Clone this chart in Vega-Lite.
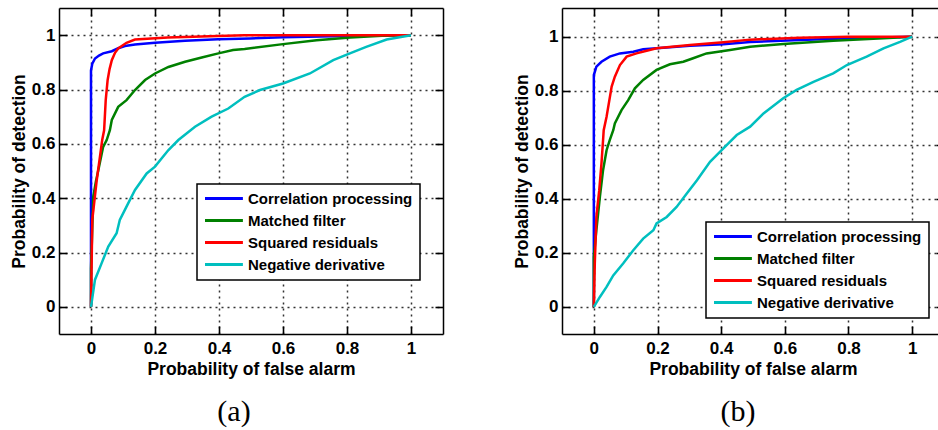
{
  "$schema": "https://vega.github.io/schema/vega-lite/v6.json",
  "autosize": {"type": "none"},
  "padding": {"left": 59, "top": 8, "right": 879, "bottom": 422},
  "background": "white",
  "bounds": "flush",
  "spacing": 119,
  "config": {
    "view": {"stroke": null},
    "axis": {
      "labelFont": "Liberation Sans", "labelFontWeight": "bold", "labelFontSize": 17, "labelColor": "black",
      "titleFont": "Liberation Sans", "titleFontWeight": "bold", "titleFontSize": 17.5, "titleColor": "black",
      "domainColor": "black", "domainWidth": 1.5,
      "ticks": true, "tickSize": -8, "tickColor": "black", "tickWidth": 1.6, "tickOpacity": 1,
      "gridColor": "#333333", "gridDash": [2, 4], "gridWidth": 1.5, "gridOpacity": 1,
      "labelFlush": false, "labelOverlap": false, "format": "~g"
    },
    "legend": {
      "labelFont": "Liberation Sans", "labelFontWeight": "bold", "labelFontSize": 15, "labelColor": "black", "labelLimit": 400,
      "symbolType": "M-1.37,0H6.62", "symbolSize": 90, "symbolStrokeWidth": 3, "labelOffset": 29,
      "padding": 7, "rowPadding": 6, "strokeColor": "black", "fillColor": "white", "strokeWidth": 1.5
    },
    "title": {"font": "Liberation Serif", "fontWeight": "normal", "fontSize": 30, "color": "black"}
  },
  "datasets": {
    "a": [
      {"s": "Correlation processing", "x": 0, "y": 0},
      {"s": "Correlation processing", "x": 0, "y": 0.87},
      {"s": "Correlation processing", "x": 0.004, "y": 0.895},
      {"s": "Correlation processing", "x": 0.0125, "y": 0.914},
      {"s": "Correlation processing", "x": 0.025, "y": 0.925},
      {"s": "Correlation processing", "x": 0.038, "y": 0.933},
      {"s": "Correlation processing", "x": 0.065, "y": 0.941},
      {"s": "Correlation processing", "x": 0.085, "y": 0.952},
      {"s": "Correlation processing", "x": 0.106, "y": 0.96},
      {"s": "Correlation processing", "x": 0.1375, "y": 0.966},
      {"s": "Correlation processing", "x": 0.2, "y": 0.972},
      {"s": "Correlation processing", "x": 0.294, "y": 0.979},
      {"s": "Correlation processing", "x": 0.397, "y": 0.985},
      {"s": "Correlation processing", "x": 0.497, "y": 0.988},
      {"s": "Correlation processing", "x": 0.6, "y": 0.992},
      {"s": "Correlation processing", "x": 0.756, "y": 0.996},
      {"s": "Correlation processing", "x": 0.9, "y": 0.999},
      {"s": "Correlation processing", "x": 1, "y": 1},
      {"s": "Matched filter", "x": 0, "y": 0},
      {"s": "Matched filter", "x": 0, "y": 0.14},
      {"s": "Matched filter", "x": 0.003, "y": 0.25},
      {"s": "Matched filter", "x": 0.007, "y": 0.405},
      {"s": "Matched filter", "x": 0.015, "y": 0.46},
      {"s": "Matched filter", "x": 0.023, "y": 0.504},
      {"s": "Matched filter", "x": 0.038, "y": 0.589},
      {"s": "Matched filter", "x": 0.049, "y": 0.614},
      {"s": "Matched filter", "x": 0.059, "y": 0.65},
      {"s": "Matched filter", "x": 0.065, "y": 0.688},
      {"s": "Matched filter", "x": 0.085, "y": 0.736},
      {"s": "Matched filter", "x": 0.111, "y": 0.761},
      {"s": "Matched filter", "x": 0.1375, "y": 0.798},
      {"s": "Matched filter", "x": 0.169, "y": 0.835},
      {"s": "Matched filter", "x": 0.2, "y": 0.859},
      {"s": "Matched filter", "x": 0.242, "y": 0.883},
      {"s": "Matched filter", "x": 0.294, "y": 0.902},
      {"s": "Matched filter", "x": 0.346, "y": 0.918},
      {"s": "Matched filter", "x": 0.398, "y": 0.933},
      {"s": "Matched filter", "x": 0.444, "y": 0.945},
      {"s": "Matched filter", "x": 0.48, "y": 0.949},
      {"s": "Matched filter", "x": 0.6, "y": 0.967},
      {"s": "Matched filter", "x": 0.705, "y": 0.981},
      {"s": "Matched filter", "x": 0.81, "y": 0.991},
      {"s": "Matched filter", "x": 0.91, "y": 0.998},
      {"s": "Matched filter", "x": 1, "y": 1},
      {"s": "Squared residuals", "x": 0, "y": 0},
      {"s": "Squared residuals", "x": 0.004, "y": 0.32},
      {"s": "Squared residuals", "x": 0.018, "y": 0.467},
      {"s": "Squared residuals", "x": 0.028, "y": 0.553},
      {"s": "Squared residuals", "x": 0.035, "y": 0.614},
      {"s": "Squared residuals", "x": 0.041, "y": 0.65},
      {"s": "Squared residuals", "x": 0.046, "y": 0.761},
      {"s": "Squared residuals", "x": 0.052, "y": 0.835},
      {"s": "Squared residuals", "x": 0.058, "y": 0.875},
      {"s": "Squared residuals", "x": 0.065, "y": 0.908},
      {"s": "Squared residuals", "x": 0.075, "y": 0.935},
      {"s": "Squared residuals", "x": 0.085, "y": 0.951},
      {"s": "Squared residuals", "x": 0.111, "y": 0.972},
      {"s": "Squared residuals", "x": 0.1375, "y": 0.984},
      {"s": "Squared residuals", "x": 0.24, "y": 0.991},
      {"s": "Squared residuals", "x": 0.397, "y": 0.997},
      {"s": "Squared residuals", "x": 0.48, "y": 1.0},
      {"s": "Squared residuals", "x": 1, "y": 1},
      {"s": "Negative derivative", "x": 0, "y": 0},
      {"s": "Negative derivative", "x": 0.0125, "y": 0.1},
      {"s": "Negative derivative", "x": 0.033, "y": 0.16},
      {"s": "Negative derivative", "x": 0.054, "y": 0.222},
      {"s": "Negative derivative", "x": 0.08, "y": 0.271},
      {"s": "Negative derivative", "x": 0.09, "y": 0.32},
      {"s": "Negative derivative", "x": 0.111, "y": 0.369},
      {"s": "Negative derivative", "x": 0.1375, "y": 0.43},
      {"s": "Negative derivative", "x": 0.174, "y": 0.491},
      {"s": "Negative derivative", "x": 0.2, "y": 0.516},
      {"s": "Negative derivative", "x": 0.242, "y": 0.577},
      {"s": "Negative derivative", "x": 0.273, "y": 0.614},
      {"s": "Negative derivative", "x": 0.325, "y": 0.663},
      {"s": "Negative derivative", "x": 0.377, "y": 0.7},
      {"s": "Negative derivative", "x": 0.429, "y": 0.73},
      {"s": "Negative derivative", "x": 0.48, "y": 0.773},
      {"s": "Negative derivative", "x": 0.528, "y": 0.798},
      {"s": "Negative derivative", "x": 0.6, "y": 0.822},
      {"s": "Negative derivative", "x": 0.684, "y": 0.859},
      {"s": "Negative derivative", "x": 0.757, "y": 0.908},
      {"s": "Negative derivative", "x": 0.809, "y": 0.933},
      {"s": "Negative derivative", "x": 0.86, "y": 0.957},
      {"s": "Negative derivative", "x": 0.924, "y": 0.984},
      {"s": "Negative derivative", "x": 1, "y": 1}
    ],
    "b": [
      {"s": "Correlation processing", "x": 0, "y": 0},
      {"s": "Correlation processing", "x": 0, "y": 0.858},
      {"s": "Correlation processing", "x": 0.008, "y": 0.889},
      {"s": "Correlation processing", "x": 0.024, "y": 0.907},
      {"s": "Correlation processing", "x": 0.05, "y": 0.926},
      {"s": "Correlation processing", "x": 0.082, "y": 0.938},
      {"s": "Correlation processing", "x": 0.124, "y": 0.944},
      {"s": "Correlation processing", "x": 0.155, "y": 0.953},
      {"s": "Correlation processing", "x": 0.197, "y": 0.957},
      {"s": "Correlation processing", "x": 0.302, "y": 0.966},
      {"s": "Correlation processing", "x": 0.407, "y": 0.972},
      {"s": "Correlation processing", "x": 0.491, "y": 0.98},
      {"s": "Correlation processing", "x": 0.648, "y": 0.988},
      {"s": "Correlation processing", "x": 0.805, "y": 0.994},
      {"s": "Correlation processing", "x": 1, "y": 1},
      {"s": "Matched filter", "x": 0, "y": 0},
      {"s": "Matched filter", "x": 0, "y": 0.185},
      {"s": "Matched filter", "x": 0.008, "y": 0.284},
      {"s": "Matched filter", "x": 0.019, "y": 0.407},
      {"s": "Matched filter", "x": 0.029, "y": 0.506},
      {"s": "Matched filter", "x": 0.04, "y": 0.58},
      {"s": "Matched filter", "x": 0.05, "y": 0.617},
      {"s": "Matched filter", "x": 0.061, "y": 0.654},
      {"s": "Matched filter", "x": 0.066, "y": 0.679},
      {"s": "Matched filter", "x": 0.087, "y": 0.728},
      {"s": "Matched filter", "x": 0.108, "y": 0.765},
      {"s": "Matched filter", "x": 0.129, "y": 0.809},
      {"s": "Matched filter", "x": 0.155, "y": 0.84},
      {"s": "Matched filter", "x": 0.197, "y": 0.877},
      {"s": "Matched filter", "x": 0.239, "y": 0.898},
      {"s": "Matched filter", "x": 0.281, "y": 0.907},
      {"s": "Matched filter", "x": 0.312, "y": 0.92},
      {"s": "Matched filter", "x": 0.354, "y": 0.938},
      {"s": "Matched filter", "x": 0.428, "y": 0.951},
      {"s": "Matched filter", "x": 0.491, "y": 0.963},
      {"s": "Matched filter", "x": 0.595, "y": 0.973},
      {"s": "Matched filter", "x": 0.752, "y": 0.985},
      {"s": "Matched filter", "x": 0.91, "y": 0.994},
      {"s": "Matched filter", "x": 1, "y": 1},
      {"s": "Squared residuals", "x": 0, "y": 0},
      {"s": "Squared residuals", "x": 0.003, "y": 0.16},
      {"s": "Squared residuals", "x": 0.008, "y": 0.333},
      {"s": "Squared residuals", "x": 0.017, "y": 0.432},
      {"s": "Squared residuals", "x": 0.024, "y": 0.531},
      {"s": "Squared residuals", "x": 0.029, "y": 0.617},
      {"s": "Squared residuals", "x": 0.031, "y": 0.654},
      {"s": "Squared residuals", "x": 0.04, "y": 0.704},
      {"s": "Squared residuals", "x": 0.056, "y": 0.815},
      {"s": "Squared residuals", "x": 0.066, "y": 0.852},
      {"s": "Squared residuals", "x": 0.082, "y": 0.895},
      {"s": "Squared residuals", "x": 0.103, "y": 0.926},
      {"s": "Squared residuals", "x": 0.134, "y": 0.938},
      {"s": "Squared residuals", "x": 0.166, "y": 0.948},
      {"s": "Squared residuals", "x": 0.197, "y": 0.957},
      {"s": "Squared residuals", "x": 0.302, "y": 0.969},
      {"s": "Squared residuals", "x": 0.407, "y": 0.979},
      {"s": "Squared residuals", "x": 0.491, "y": 0.989},
      {"s": "Squared residuals", "x": 0.648, "y": 0.996},
      {"s": "Squared residuals", "x": 0.8, "y": 1.0},
      {"s": "Squared residuals", "x": 1, "y": 1},
      {"s": "Negative derivative", "x": 0, "y": 0},
      {"s": "Negative derivative", "x": 0.019, "y": 0.037},
      {"s": "Negative derivative", "x": 0.04, "y": 0.074},
      {"s": "Negative derivative", "x": 0.061, "y": 0.117},
      {"s": "Negative derivative", "x": 0.092, "y": 0.161},
      {"s": "Negative derivative", "x": 0.124, "y": 0.21},
      {"s": "Negative derivative", "x": 0.155, "y": 0.253},
      {"s": "Negative derivative", "x": 0.187, "y": 0.284},
      {"s": "Negative derivative", "x": 0.197, "y": 0.309},
      {"s": "Negative derivative", "x": 0.229, "y": 0.333},
      {"s": "Negative derivative", "x": 0.26, "y": 0.37},
      {"s": "Negative derivative", "x": 0.292, "y": 0.42},
      {"s": "Negative derivative", "x": 0.324, "y": 0.469},
      {"s": "Negative derivative", "x": 0.365, "y": 0.537},
      {"s": "Negative derivative", "x": 0.407, "y": 0.587},
      {"s": "Negative derivative", "x": 0.449, "y": 0.636},
      {"s": "Negative derivative", "x": 0.491, "y": 0.667},
      {"s": "Negative derivative", "x": 0.533, "y": 0.716},
      {"s": "Negative derivative", "x": 0.595, "y": 0.772},
      {"s": "Negative derivative", "x": 0.637, "y": 0.803},
      {"s": "Negative derivative", "x": 0.69, "y": 0.833},
      {"s": "Negative derivative", "x": 0.752, "y": 0.864},
      {"s": "Negative derivative", "x": 0.795, "y": 0.895},
      {"s": "Negative derivative", "x": 0.857, "y": 0.926},
      {"s": "Negative derivative", "x": 0.91, "y": 0.957},
      {"s": "Negative derivative", "x": 0.962, "y": 0.981},
      {"s": "Negative derivative", "x": 1, "y": 1}
    ]
  },
  "hconcat": [
    {
      "width": 384, "height": 326,
      "data": {"name": "a"},
      "title": {"text": "(a)", "orient": "bottom", "anchor": "middle", "offset": 19, "dx": -17},
      "layer": [
        {
          "mark": {"type": "line", "strokeWidth": 2.5},
          "encoding": {
            "x": {"field": "x", "type": "quantitative", "scale": {"domain": [-0.1, 1.1], "nice": false, "zero": false},
                  "axis": {"orient": "bottom", "values": [0, 0.2, 0.4, 0.6, 0.8, 1], "grid": true, "title": "Probability of false alarm", "labelPadding": 14, "titlePadding": 4}},
            "y": {"field": "y", "type": "quantitative", "scale": {"domain": [-0.1, 1.1], "nice": false, "zero": false},
                  "axis": {"orient": "left", "values": [0, 0.2, 0.4, 0.6, 0.8, 1], "grid": true, "title": "Probability of detection", "labelPadding": 12, "titlePadding": 3}},
            "color": {"field": "s", "type": "nominal",
                      "scale": {"domain": ["Correlation processing", "Matched filter", "Squared residuals", "Negative derivative"], "range": ["#0000ff", "#008000", "#ff0000", "#00bfbf"]},
                      "legend": {"orient": "none", "legendX": 138, "legendY": 176, "title": null}}
          }
        },
        {
          "mark": {"type": "line", "opacity": 0},
          "encoding": {
            "x": {"field": "x", "type": "quantitative", "scale": {"domain": [-0.1, 1.1], "nice": false, "zero": false},
                  "axis": {"orient": "top", "values": [0, 0.2, 0.4, 0.6, 0.8, 1], "grid": false, "labels": false, "title": null}},
            "y": {"field": "y", "type": "quantitative", "scale": {"domain": [-0.1, 1.1], "nice": false, "zero": false},
                  "axis": {"orient": "right", "values": [0, 0.2, 0.4, 0.6, 0.8, 1], "grid": false, "labels": false, "title": null}},
            "detail": {"field": "s"}
          }
        }
      ],
      "resolve": {"axis": {"x": "independent", "y": "independent"}}
    },
    {
      "width": 382, "height": 326,
      "data": {"name": "b"},
      "title": {"text": "(b)", "orient": "bottom", "anchor": "middle", "offset": 19, "dx": -15},
      "layer": [
        {
          "mark": {"type": "line", "strokeWidth": 2.5},
          "encoding": {
            "x": {"field": "x", "type": "quantitative", "scale": {"domain": [-0.1, 1.1], "nice": false, "zero": false},
                  "axis": {"orient": "bottom", "values": [0, 0.2, 0.4, 0.6, 0.8, 1], "grid": true, "title": "Probability of false alarm", "labelPadding": 14, "titlePadding": 4}},
            "y": {"field": "y", "type": "quantitative", "scale": {"domain": [-0.1, 1.106], "nice": false, "zero": false},
                  "axis": {"orient": "left", "values": [0, 0.2, 0.4, 0.6, 0.8, 1], "grid": true, "title": "Probability of detection", "labelPadding": 12, "titlePadding": 3}},
            "color": {"field": "s", "type": "nominal",
                      "scale": {"domain": ["Correlation processing", "Matched filter", "Squared residuals", "Negative derivative"], "range": ["#0000ff", "#008000", "#ff0000", "#00bfbf"]},
                      "legend": {"orient": "none", "legendX": 144, "legendY": 214, "title": null}}
          }
        },
        {
          "mark": {"type": "line", "opacity": 0},
          "encoding": {
            "x": {"field": "x", "type": "quantitative", "scale": {"domain": [-0.1, 1.1], "nice": false, "zero": false},
                  "axis": {"orient": "top", "values": [0, 0.2, 0.4, 0.6, 0.8, 1], "grid": false, "labels": false, "title": null}},
            "y": {"field": "y", "type": "quantitative", "scale": {"domain": [-0.1, 1.106], "nice": false, "zero": false},
                  "axis": {"orient": "right", "values": [0, 0.2, 0.4, 0.6, 0.8, 1], "grid": false, "labels": false, "title": null}},
            "detail": {"field": "s"}
          }
        }
      ],
      "resolve": {"axis": {"x": "independent", "y": "independent"}}
    }
  ],
  "resolve": {"legend": {"color": "independent"}}
}
